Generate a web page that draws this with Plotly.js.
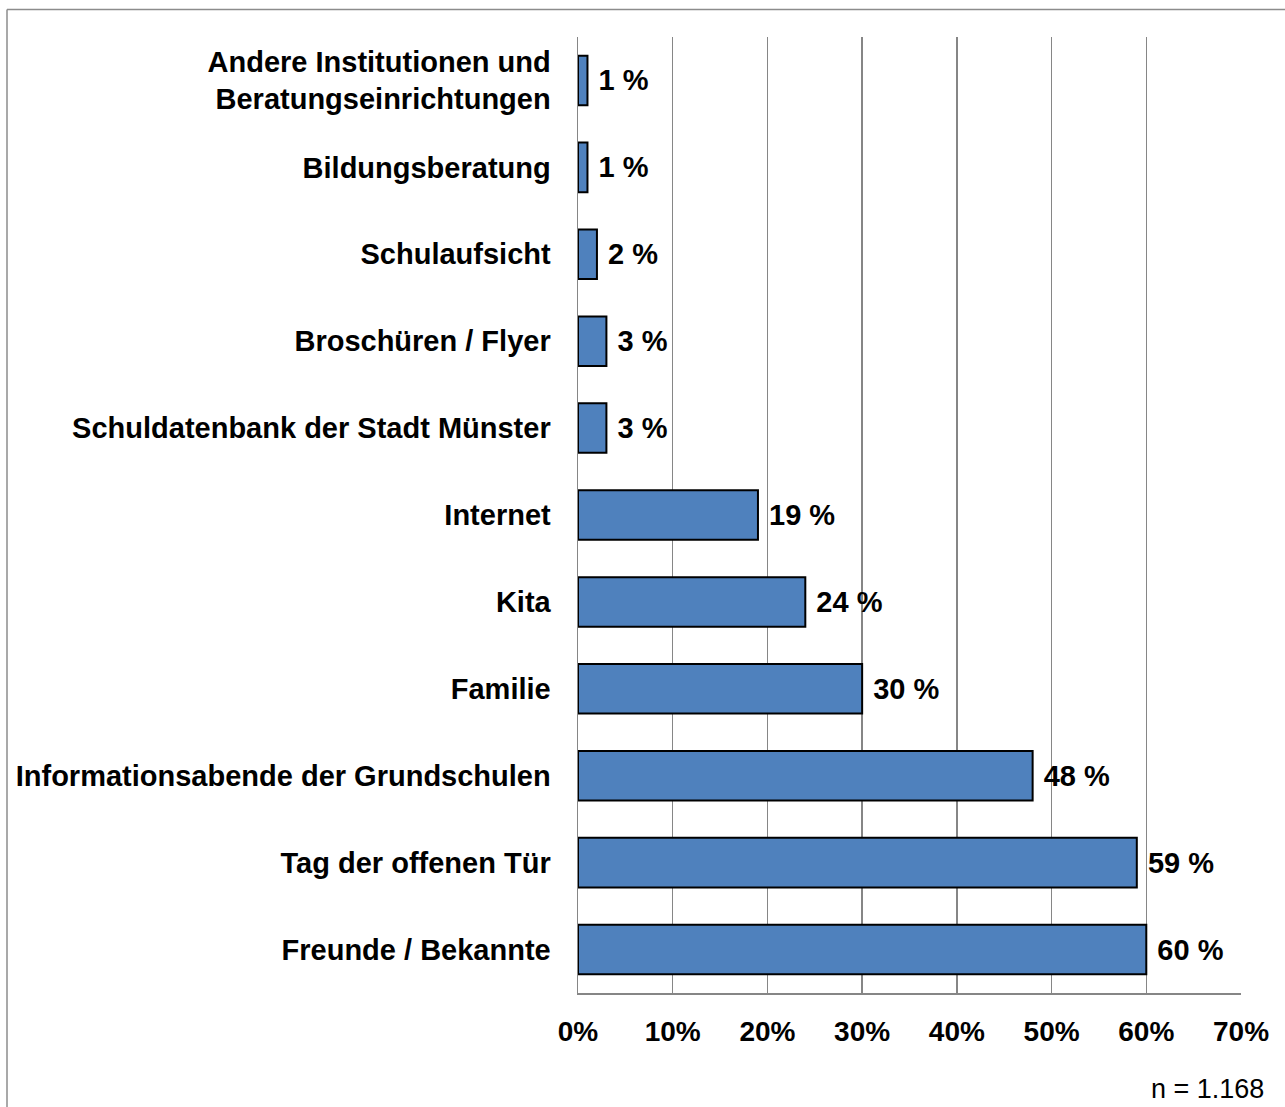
<!DOCTYPE html>
<html>
<head>
<meta charset="utf-8">
<script src="https://cdn.plot.ly/plotly-3.0.1.min.js"></script>
<style>
html,body{margin:0;padding:0;background:#fff;}
#chart{width:1285px;height:1107px;}
</style>
</head>
<body>
<div id="chart"></div>
<script>
// Categories listed bottom to top
const categories = [
  "Freunde / Bekannte",
  "Tag der offenen Tür",
  "Informationsabende der Grundschulen",
  "Familie",
  "Kita",
  "Internet",
  "Schuldatenbank der Stadt Münster",
  "Broschüren / Flyer",
  "Schulaufsicht",
  "Bildungsberatung",
  "Andere Institutionen und<br>Beratungseinrichtungen"
];
const values = [60, 59, 48, 30, 24, 19, 3, 3, 2, 1, 1];
const valueLabels = values.map(v => "\u00a0" + v + " %");
const tickVals = [0, 10, 20, 30, 40, 50, 60, 70];
const tickText = tickVals.map(v => v + "%");
const sampleNote = "n = 1.168";

const FONT = "Liberation Sans, Arial, sans-serif";

const trace = {
  type: "bar",
  orientation: "h",
  y: categories,
  x: values,
  text: valueLabels,
  textposition: "outside",
  cliponaxis: false,
  textfont: {family: FONT, size: 29, color: "#000", weight: "bold"},
  marker: {color: "#4F81BD", line: {color: "#000", width: 2}},
  hoverinfo: "skip"
};

const W = 1285, H = 1107;
const L = 578, R = 44, T = 36.5, B = 113.5;
const pw = W - L - R, ph = H - T - B;
function px2x(p){ return (p - L) / pw; }
function py2y(p){ return (H - B - p) / ph; }

const layout = {
  width: W, height: H,
  margin: {l: L, r: R, t: T, b: B, pad: 0},
  paper_bgcolor: "#fff",
  plot_bgcolor: "#fff",
  showlegend: false,
  bargap: 0.43,
  font: {family: FONT, color: "#000"},
  xaxis: {
    range: [0, 70],
    tickvals: tickVals,
    ticktext: tickText,
    showgrid: true,
    gridcolor: "#868686",
    gridwidth: 1.5,
    zeroline: false,
    showline: true,
    linecolor: "#868686",
    linewidth: 1.5,
    ticks: "",
    ticklabelstandoff: 13,
    tickfont: {family: FONT, size: 28, color: "#000", weight: "bold"},
    fixedrange: true
  },
  yaxis: {
    showgrid: false,
    zeroline: false,
    showline: true,
    linecolor: "#868686",
    linewidth: 1.5,
    ticks: "",
    ticklabelstandoff: 20,
    tickfont: {family: FONT, size: 29, color: "#000", weight: "bold"},
    fixedrange: true
  },
  shapes: [
    {type: "line", xref: "paper", yref: "paper",
     x0: px2x(7), x1: px2x(1300), y0: py2y(9), y1: py2y(9),
     line: {color: "#8c8c8c", width: 1.5}},
    {type: "line", xref: "paper", yref: "paper",
     x0: px2x(7), x1: px2x(7), y0: py2y(9), y1: py2y(1120),
     line: {color: "#8c8c8c", width: 1.5}}
  ],
  annotations: [
    {text: sampleNote, xref: "paper", yref: "paper",
     x: px2x(1266), y: py2y(1090), xanchor: "right", yanchor: "middle",
     showarrow: false, font: {family: FONT, size: 27, color: "#000"}}
  ]
};

Plotly.newPlot("chart", [trace], layout, {displayModeBar: false, staticPlot: true});
</script>
</body>
</html>
